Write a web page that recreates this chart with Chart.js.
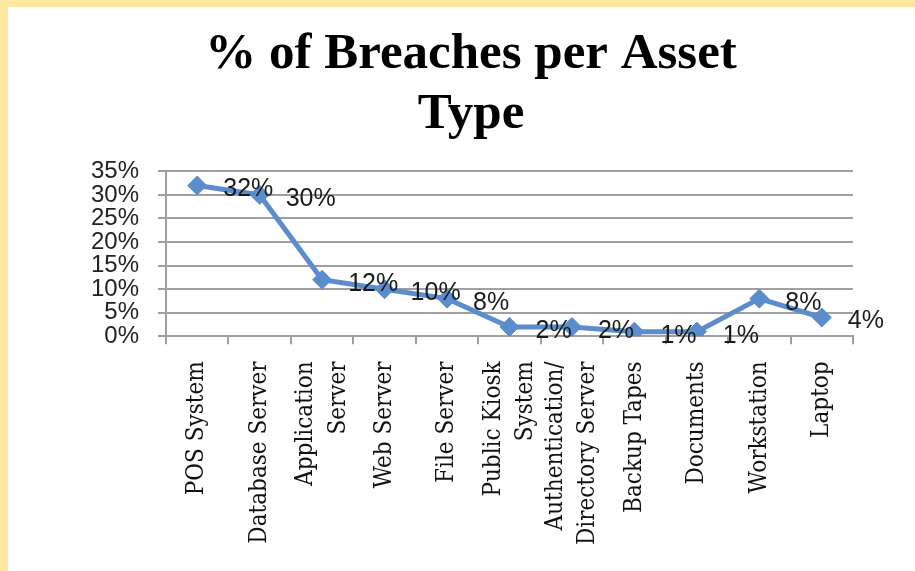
<!DOCTYPE html>
<html>
<head>
<meta charset="utf-8">
<script src="https://cdn.jsdelivr.net/npm/chart.js"></script>
<style>
html, body { margin: 0; padding: 0; }
body { width: 915px; height: 571px; background: #ffe9a0; position: relative; overflow: hidden; }
#panel { position: absolute; left: 8px; top: 7px; width: 907px; height: 564px; background: #fff; }
</style>
</head>
<body>
<div id="panel"><canvas id="chart" width="907" height="564"></canvas></div>
<script>
const categories = [
    'POS System',
    'Database Server',
    ['Application', 'Server'],
    'Web Server',
    'File Server',
    ['Public Kiosk', 'System'],
    ['Authentication/', 'Directory Server'],
    'Backup Tapes',
    'Documents',
    'Workstation',
    'Laptop'
];
const breachPercent = [32, 30, 12, 10, 8, 2, 2, 1, 1, 8, 4];
const yTicks = [0, 5, 10, 15, 20, 25, 30, 35];

const lineBlue = '#5b8dcc';
const gridGrey = '#a0a0a0';
const catFontSize = 24;
const catLineHeight = 1.35;

// value labels sit to the right of each marker, like the Excel original
const pointLabels = {
    id: 'pointLabels',
    afterDatasetsDraw(chart) {
        const ctx = chart.ctx;
        const meta = chart.getDatasetMeta(0);
        ctx.save();
        ctx.font = '25px "Liberation Sans", Arial, sans-serif';
        ctx.fillStyle = '#1a1a1a';
        ctx.textAlign = 'left';
        ctx.textBaseline = 'middle';
        meta.data.forEach((pt, i) => {
            ctx.fillText(breachPercent[i] + '%', pt.x + 26, pt.y + 4);
        });
        ctx.restore();
    }
};

// Chart.js puts the first line of a rotated multi-line label on the tick;
// Excel centres the block of lines on it instead
const centreWrappedTicks = {
    id: 'centreWrappedTicks',
    beforeDraw(chart) {
        const items = chart.scales.x.getLabelItems();
        items.forEach(item => {
            if (Array.isArray(item.label) && item.label.length > 1) {
                item.options.translation[0] -= (item.label.length - 1) * catFontSize * catLineHeight / 2;
            }
        });
    }
};

new Chart(document.getElementById('chart').getContext('2d'), {
    type: 'line',
    data: {
        labels: categories,
        datasets: [{
            label: '% of Breaches',
            data: breachPercent,
            borderColor: lineBlue,
            backgroundColor: lineBlue,
            borderWidth: 5,
            tension: 0,
            pointStyle: 'rectRot',
            pointRadius: 9.5,
            pointBackgroundColor: lineBlue,
            pointBorderColor: lineBlue,
            pointBorderWidth: 1
        }]
    },
    options: {
        responsive: false,
        animation: false,
        layout: {
            padding: { left: 81, right: 62, top: 0, bottom: 9 }
        },
        scales: {
            x: {
                offset: true,
                grid: {
                    display: true,
                    offset: true,
                    drawOnChartArea: false,
                    drawTicks: true,
                    tickLength: 8,
                    color: gridGrey,
                    lineWidth: 2
                },
                border: { display: true, color: gridGrey, width: 2 },
                ticks: {
                    autoSkip: false,
                    maxRotation: 90,
                    minRotation: 90,
                    padding: 17,
                    color: '#111',
                    font: {
                        family: '"DejaVu Serif Condensed", "DejaVu Serif", serif',
                        size: catFontSize,
                        lineHeight: catLineHeight
                    }
                }
            },
            y: {
                min: 0,
                max: 35,
                afterBuildTicks: scale => {
                    scale.ticks = yTicks.map(v => ({ value: v }));
                },
                afterFit: scale => {
                    scale.width = 77;
                },
                grid: {
                    color: gridGrey,
                    lineWidth: 2,
                    tickLength: 8
                },
                border: { display: true, color: gridGrey, width: 2 },
                ticks: {
                    autoSkip: false,
                    padding: 19,
                    color: '#222',
                    font: {
                        family: '"Liberation Sans", Arial, sans-serif',
                        size: 24,
                        lineHeight: 1
                    },
                    callback: function(value) {
                        return value + '%';
                    }
                }
            }
        },
        plugins: {
            legend: { display: false },
            tooltip: { enabled: false },
            title: {
                display: true,
                text: ['% of Breaches per Asset', 'Type'],
                color: '#000',
                font: {
                    family: '"Liberation Serif", "Times New Roman", serif',
                    size: 51,
                    weight: 'bold',
                    lineHeight: 1.17
                },
                padding: { top: 18, bottom: 27 }
            }
        }
    },
    plugins: [pointLabels, centreWrappedTicks]
});
</script>
</body>
</html>
